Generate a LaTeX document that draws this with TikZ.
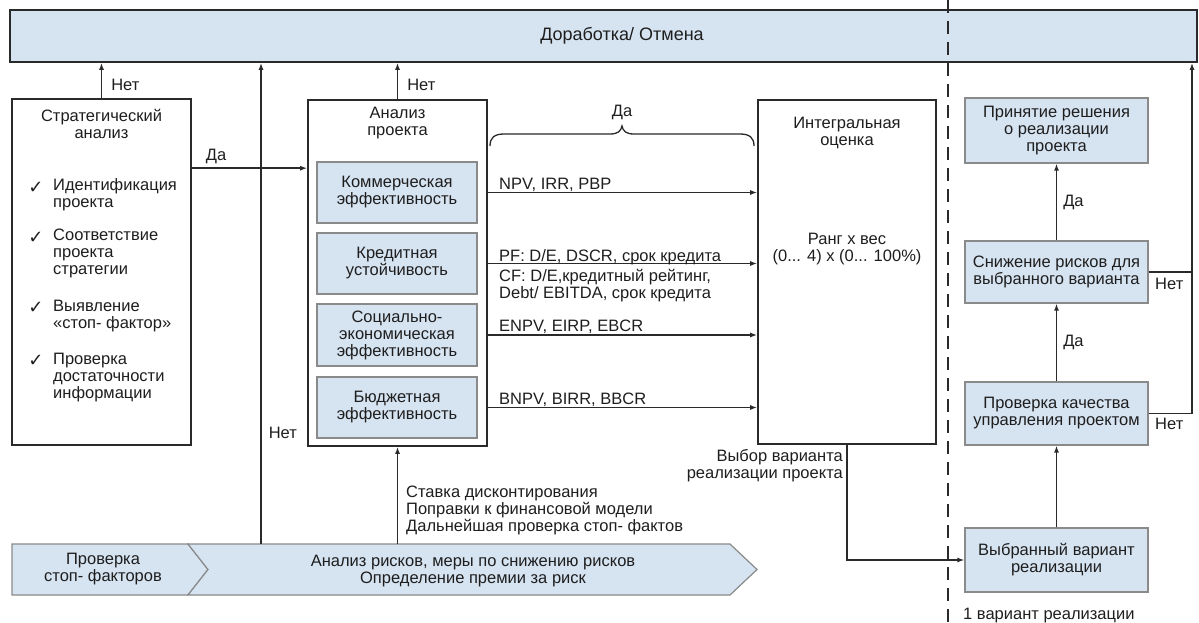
\documentclass[tikz,border=0pt]{standalone}
\usepackage{fontspec}
\setmainfont{Liberation Sans}
\newfontfamily\symfont{DejaVu Sans}
\usetikzlibrary{arrows.meta}
\definecolor{boxblue}{HTML}{D6E3F1}
\definecolor{edgegray}{HTML}{8A8A8A}
\definecolor{darkline}{HTML}{2A2A2A}
\definecolor{textcol}{HTML}{1E1E1E}
\tikzset{
 every node/.style={font=\fontsize{16.5}{17}\selectfont, text=textcol, inner sep=0pt},
 outerbox/.style={draw=darkline, line width=1.6pt, fill=white},
 barbox/.style={draw=darkline, line width=1.6pt, fill=boxblue, font=\fontsize{18}{19}\selectfont},
 bluebox/.style={draw=edgegray, line width=1.2pt, fill=boxblue, align=center},
 chev/.style={draw=edgegray, line width=1.2pt, fill=boxblue},
 conn/.style={draw=darkline, line width=1.5pt},
 arr/.style={conn, -{Latex[length=7pt,width=5pt]}},
 txt/.style={align=left, anchor=west},
 ctxt/.style={align=center},
 chk/.style={font=\symfont\fontsize{18}{18}\selectfont},
 sepline/.style={draw=darkline, line width=2pt, dash pattern=on 13pt off 8pt},
}
\begin{document}
\begin{tikzpicture}[x=1pt,y=-1pt]
\useasboundingbox (0,0) rectangle (1199,623);
% top bar
\node[barbox, minimum width=1187pt, minimum height=52pt] (bar) at (603.5,36) {\hspace*{37pt}Доработка/ Отмена};
% separator
\draw[sepline] (948,0) -- (948,623);
% strategic analysis
\node[outerbox, minimum width=179pt, minimum height=346pt] (A) at (101.5,272) {};
\node[ctxt] (Atitle) at (101.5,123.5) {Стратегический\\анализ};
\node[chk] (c1) at (36,188) {✓};
\node[chk] (c2) at (36,238) {✓};
\node[chk] (c3) at (36,308) {✓};
\node[chk] (c4) at (36,361) {✓};
\node[txt] (a1) at (53,195) {Идентификация\\проекта};
\node[txt] (a2) at (53,253.5) {Соответствие\\проекта\\стратегии};
\node[txt] (a3) at (53,316) {Выявление\\«стоп- фактор»};
\node[txt] (a4) at (53,377.5) {Проверка\\достаточности\\информации};
% project analysis
\node[outerbox, minimum width=179pt, minimum height=346pt] (M) at (397.5,273) {};
\node[ctxt] (Mtitle) at (397.5,123) {Анализ\\проекта};
\node[bluebox, minimum width=160pt, minimum height=61pt] (K1) at (397,192.5) {Коммерческая\\эффективность};
\node[bluebox, minimum width=160pt, minimum height=61pt] (K2) at (397,263.5) {Кредитная\\устойчивость};
\node[bluebox, minimum width=160pt, minimum height=62pt] (K3) at (397,335) {Социально-\\экономическая\\эффективность};
\node[bluebox, minimum width=160pt, minimum height=61pt] (K4) at (397,407.5) {Бюджетная\\эффективность};
% integral
\node[outerbox, minimum width=178pt, minimum height=344pt] (I) at (847,272) {};
\node[ctxt] (Ititle) at (847,132.5) {Интегральная\\оценка};
\node[ctxt] (Irank) at (847,249) {Ранг x вес\\(0... 4) x (0... 100\%)};
% right column
\node[bluebox, minimum width=183pt, minimum height=65pt] (R1) at (1056.5,130.5) {Принятие решения\\о реализации\\проекта};
\node[bluebox, minimum width=183pt, minimum height=62pt] (R2) at (1056.5,272) {Снижение рисков для\\выбранного варианта};
\node[bluebox, minimum width=183pt, minimum height=63pt] (R3) at (1056.5,413.5) {Проверка качества\\управления проектом};
\node[bluebox, minimum width=183pt, minimum height=64pt] (R4) at (1056.5,560) {Выбранный вариант\\реализации};
% chevrons
\draw[chev] (12,544) -- (188,544) -- (208,569.5) -- (188,595) -- (12,595) -- cycle;
\draw[chev] (188,544) -- (730,544) -- (757,569.5) -- (730,595) -- (188,595) -- (208,569.5) -- cycle;
\node[ctxt] (P1) at (103,569.5) {Проверка\\стоп- факторов};
\node[ctxt] (P2) at (473,571) {Анализ рисков, меры по снижению рисков\\Определение премии за риск};
\coordinate (ch1) at (261,544);
\coordinate (ch2) at (397.5,544);
\coordinate (rl) at (1192,0);
% connectors to bar
\draw[arr] (A.north) -- (A.north |- bar.south) node[pos=0.38, anchor=west, xshift=9pt] {Нет};
\draw[arr] (M.north) -- (M.north |- bar.south) node[pos=0.38, anchor=west, xshift=9pt] {Нет};
\draw[arr] (ch1) -- (ch1 |- bar.south) node[pos=0.23, anchor=west, xshift=7pt] {Нет};
% Да from strategic to project
\draw[arr] ([yshift=-70pt]A.north east) coordinate (da) -- (da -| M.west) node[pos=0.21, anchor=south, yshift=4pt] {Да};
% risks to project analysis
\draw[arr] (ch2) -- (M.south);
\node[txt] (st) at (406,510) {Ставка дисконтирования\\Поправки к финансовой модели\\Дальнейшая проверка стоп- фактов};
% metrics
\draw[arr] (K1 -| M.east) -- (K1 -| I.west);
\draw[arr] (K2 -| M.east) -- (K2 -| I.west);
\draw[arr] (K3 -| M.east) -- (K3 -| I.west);
\draw[arr] (K4 -| M.east) -- (K4 -| I.west);
\node[txt] (m1) at (499,185) {NPV, IRR, PBP};
\node[txt] (m2) at (499,257) {PF: D/E, DSCR, срок кредита};
\node[txt] (m3) at (499,286) {CF: D/E,кредитный рейтинг,\\Debt/ EBITDA, срок кредита};
\node[txt] (m4) at (499,327) {ENPV, EIRP, EBCR};
\node[txt] (m5) at (499,400) {BNPV, BIRR, BBCR};
% brace
\draw[conn, line width=1.3pt] (490,146) .. controls (490,138) and (494,134) .. (504,134) -- (610,134) .. controls (618,134) and (621,131) .. (622,126) .. controls (623,131) and (626,134) .. (634,134) -- (740,134) .. controls (750,134) and (754,138) .. (754,146);
\node (bda) at (622,112) {Да};
% integral to chosen variant
\draw[arr] (I.south) |- (R4.west);
\node[anchor=east, align=right] (vv) at (843,466) {Выбор варианта\\реализации проекта};
\node[anchor=west] (one) at (963,616) {1 вариант реализации};
% right column connectors
\draw[arr] (R4.north) -- (R3.south);
\draw[arr] (R3.north) -- (R2.south) node[midway, anchor=west, xshift=6pt] {Да};
\draw[arr] (R2.north) -- (R1.south) node[midway, anchor=west, xshift=6pt] {Да};
\draw[conn] (R2.east) -- (R2.east -| rl);
\draw[arr] (R3.east) -- (R3.east -| rl) -- (rl |- bar.south);
\node[anchor=north west] (n1) at (1155,278) {Нет};
\node[anchor=north west] (n2) at (1155,418) {Нет};
\end{tikzpicture}
\end{document}
